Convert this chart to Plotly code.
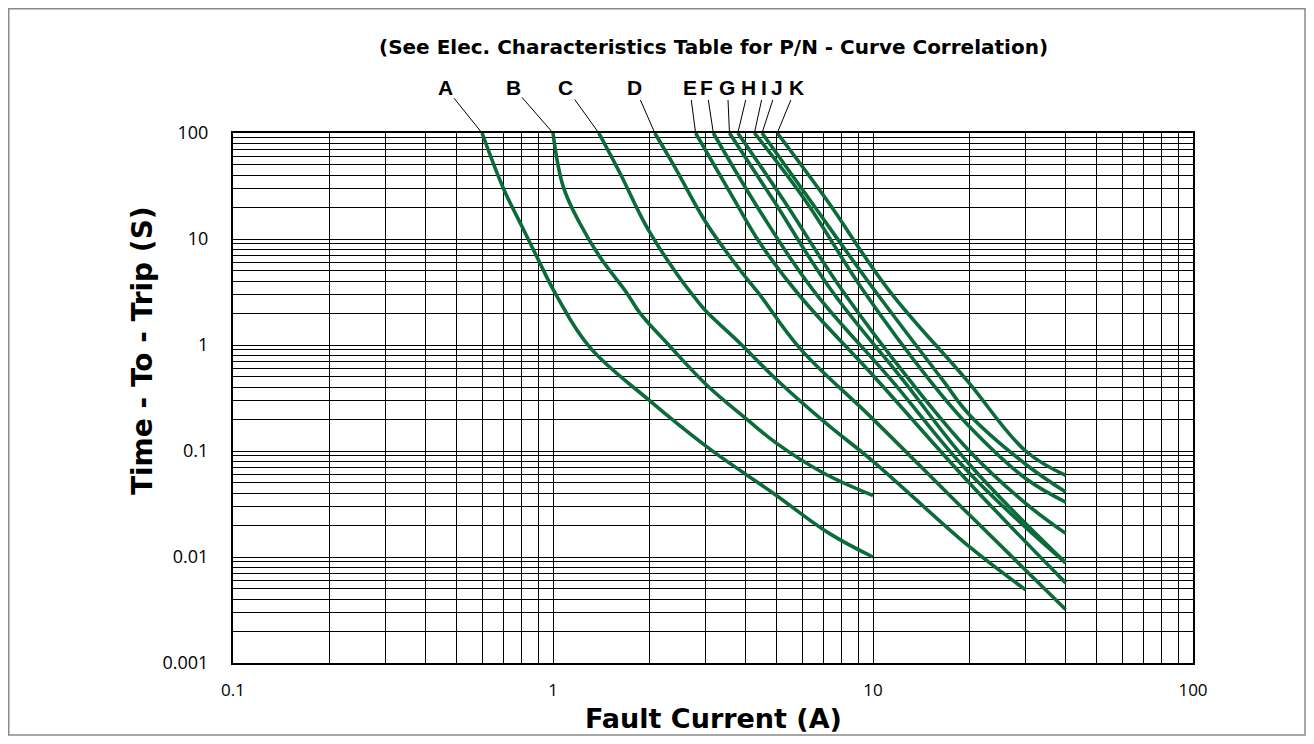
import math
import plotly.graph_objects as go

# ---------------- data ----------------
curve_names = ["A", "B", "C", "D", "E", "F", "G", "H", "I", "J", "K"]

A_x = [0.6, 0.7, 0.8, 0.88, 1.03, 1.3, 2.0, 3.02, 4.88, 7.3, 10]
A_y = [100, 30, 13.1, 7.3, 2.86, 0.96, 0.30, 0.11, 0.04, 0.0167, 0.01]

B_x = [1.0, 1.077, 1.214, 1.40, 1.70, 1.87, 2.3, 3.02, 4.03, 5.0, 7.0, 10]
B_y = [100, 31, 14, 6.8, 3.1, 2.0, 1.0, 0.42, 0.2, 0.118, 0.062, 0.038]

C_x = [1.39, 1.62, 1.96, 2.43, 2.81, 3.02, 3.84, 5.0, 7.17, 10, 20, 30]
C_y = [100, 41.7, 13.1, 4.75, 2.66, 2.06, 1.04, 0.47, 0.18, 0.08, 0.0125, 0.0049]

D_x = [2.08, 2.40, 3.02, 3.84, 4.44, 5.91, 10, 20, 40]
D_y = [100, 48, 14, 5.1, 2.95, 0.93, 0.2, 0.025, 0.0032]

E_x = [2.79, 3.69, 4.44, 5.91, 10.3, 20, 40]
E_y = [100, 23.3, 9.1, 2.9, 0.468, 0.05, 0.0057]

F_x = [3.17, 4.44, 6.5, 11.4, 20, 40]
F_y = [100, 18.2, 3.3, 0.468, 0.062, 0.0088]

G_x = [3.56, 4.88, 7.4, 12.4, 20, 40]
G_y = [100, 23.3, 3.3, 0.468, 0.075, 0.0088]

H_x = [3.78, 5.25, 8.0, 13.0, 20, 30, 40]
H_y = [100, 23.3, 3.3, 0.468, 0.1, 0.032, 0.0167]

I_x = [4.26, 6.13, 9.3, 15.0, 20, 30, 40]
I_y = [100, 23.3, 3.3, 0.468, 0.17, 0.055, 0.033]

J_x = [4.5, 6.35, 10.1, 16.5, 20, 30, 40]
J_y = [100, 23.3, 3.3, 0.468, 0.22, 0.075, 0.041]

K_x = [5.02, 7.17, 11.2, 19.6, 30, 40]
K_y = [100, 23.3, 3.3, 0.468, 0.1, 0.059]

# label offsets (pixels) of the letter relative to the curve start
label_dx = [-37, -40, -33, -20, -6, -7, -2, 11, 10, 15, 19]

x_tick_vals = [0.1, 1, 10, 100]
x_tick_text = ["0.1", "1", "10", "100"]
y_tick_vals = [0.001, 0.01, 0.1, 1, 10, 100]
y_tick_text = ["0.001", "0.01", "0.1", "1", "10", "100"]

title_text = "(See Elec. Characteristics Table for P/N - Curve Correlation)"
x_title = "Fault Current (A)"
y_title = "Time - To - Trip (S)"

# ---------------------------------------------------------------
series_x = [A_x, B_x, C_x, D_x, E_x, F_x, G_x, H_x, I_x, J_x, K_x]
series_y = [A_y, B_y, C_y, D_y, E_y, F_y, G_y, H_y, I_y, J_y, K_y]

GREEN = "#0c6b3a"
BOLD_FONT = "DejaVu Sans"

fig = go.Figure()
for name, xs, ys in zip(curve_names, series_x, series_y):
    fig.add_trace(go.Scatter(
        x=xs, y=ys, mode="lines", name=name,
        line=dict(color=GREEN, width=3.6, shape="spline", smoothing=1.1),
        hoverinfo="x+y+name",
    ))

minor_x = [m * 10 ** e for e in range(-1, 2) for m in range(2, 10)]
minor_y = [m * 10 ** e for e in range(-3, 2) for m in range(2, 10)]

annotations = []
for name, xs, dx in zip(curve_names, series_x, label_dx):
    annotations.append(dict(
        x=math.log10(xs[0]), y=2, xref="x", yref="y",
        text="<b>%s</b>" % name, showarrow=True, arrowhead=0,
        arrowwidth=1, arrowcolor="black", ax=dx, ay=-46,
        font=dict(family="Liberation Sans", size=21, color="black"),
        standoff=0, startstandoff=0,
    ))

annotations.append(dict(
    x=0.5, y=1.1623, xref="paper", yref="paper", showarrow=False,
    xanchor="center", yanchor="middle",
    text="<b>%s</b>" % title_text,
    font=dict(family=BOLD_FONT, size=20, color="black"),
))
annotations.append(dict(
    x=0.5, y=-0.104, xref="paper", yref="paper", showarrow=False,
    xanchor="center", yanchor="middle",
    text="<b>%s</b>" % x_title,
    font=dict(family=BOLD_FONT, size=27, color="black"),
))
annotations.append(dict(
    x=-0.095, y=0.59, xref="paper", yref="paper", showarrow=False,
    xanchor="center", yanchor="middle",
    text="<b>%s</b>" % y_title, textangle=-90,
    font=dict(family=BOLD_FONT, size=28, color="black"),
))

axis_common = dict(
    type="log", showgrid=True, gridcolor="black", gridwidth=1.3,
    showline=True, linecolor="black", linewidth=2, mirror=True,
    ticks="outside", tickcolor="rgba(0,0,0,0)",
    zeroline=False,
)

# the page adds an 8px body margin, so the figure is 16px smaller than the window
fig.update_layout(
    width=1298, height=728,
    margin=dict(l=225, r=113, t=125, b=73),
    paper_bgcolor="white", plot_bgcolor="white",
    showlegend=False,
    xaxis=dict(
        range=[-1, 2], tickmode="array", tickvals=x_tick_vals, ticktext=x_tick_text,
        ticklen=11,
        tickfont=dict(family="Open Sans", size=17, color="black"),
        minor=dict(tickmode="array", tickvals=minor_x, showgrid=True,
                   gridcolor="black", gridwidth=1),
        **axis_common,
    ),
    yaxis=dict(
        range=[-3, 2], tickmode="array", tickvals=y_tick_vals, ticktext=y_tick_text,
        ticklen=19,
        tickfont=dict(family="Open Sans", size=18, color="black"),
        minor=dict(tickmode="array", tickvals=minor_y, showgrid=True,
                   gridcolor="black", gridwidth=1),
        **axis_common,
    ),
    annotations=annotations,
    shapes=[dict(type="rect", xref="paper", yref="paper",
                 x0=-0.2336, x1=1.1167, y0=-0.136, y1=1.2345,
                 line=dict(color="#8a8a8a", width=1.5), layer="below")],
)

fig.write_html("out.html")
